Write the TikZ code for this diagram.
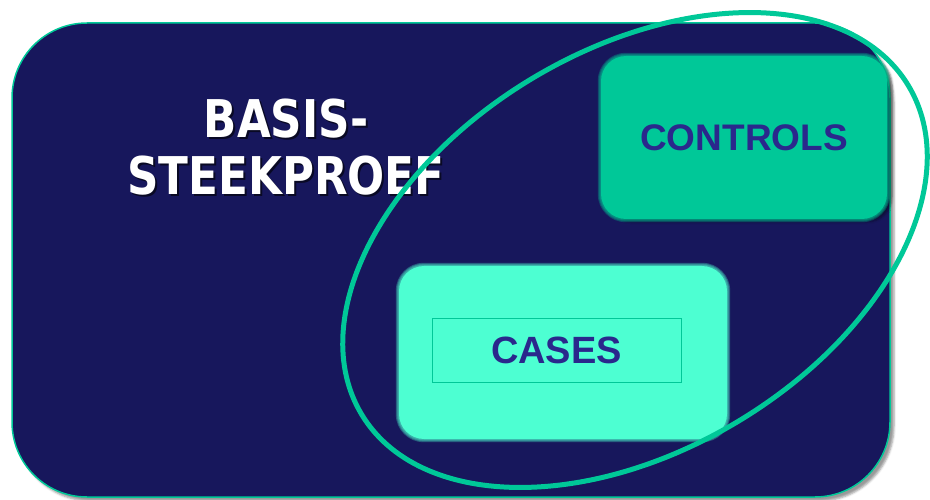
\documentclass[tikz,border=0pt]{standalone}
\usepackage{fontspec}
\setmainfont{Liberation Sans}
\newfontfamily\titlefont[FakeStretch=0.84]{DejaVu Sans}
\usepackage{xcolor}
\definecolor{navy-900}{RGB}{23,23,92}
\definecolor{teal-500}{RGB}{0,200,152}
\definecolor{aqua-300}{RGB}{77,255,210}
\definecolor{indigo-700}{RGB}{42,40,140}
\usepackage{tikz}
\usetikzlibrary{shadows.blur}

\begin{document}
\begin{tikzpicture}[
    x=1pt, y=1pt,
    every node/.style={inner sep=0pt},
    softbox/.style={rounded corners=25pt}
]
\useasboundingbox (0,0) rectangle (930,499);

% Population frame
\node[
    draw=teal-500,
    line width=1.5pt,
    fill=navy-900,
    minimum width=878,
    minimum height=474,
    rounded corners=75pt,
    blur shadow={shadow xshift=4pt, shadow yshift=-4pt}
] (frame) at (451,239) {};

% Cases block
\node[softbox, fill=aqua-300, minimum width=328, minimum height=173] (casesbox) at (563,146.5) {};
\foreach \d/\r in {1/26pt,2/27pt,3/28pt}
    \fill[aqua-300, opacity=0.3, rounded corners=\r] ([shift={(-\d,\d)}]casesbox.north west) rectangle ([shift={(\d,-\d)}]casesbox.south east);
\node[draw=teal-500, line width=1pt, minimum width=249, minimum height=64,
      font=\fontsize{38}{40}\selectfont\bfseries, text=indigo-700] (cases) at (556.5,149) {CASES};

% Controls block
\node[softbox, fill=teal-500, minimum width=286, minimum height=163,
      blur shadow={shadow xshift=5pt, shadow yshift=-3pt}] (controlsbox) at (744,361.5) {};
\foreach \d/\r in {1/26pt,2/27pt,3/28pt}
    \fill[teal-500, opacity=0.3, rounded corners=\r] ([shift={(-\d,\d)}]controlsbox.north west) rectangle ([shift={(\d,-\d)}]controlsbox.south east);
\node[font=\fontsize{37}{40}\selectfont\bfseries, text=indigo-700] (controls) at (controlsbox) {CONTROLS};

% Title with drop shadow
\node[font=\titlefont\fontsize{52}{57}\selectfont\bfseries, text=black, opacity=0.6, anchor=base] (titleAshadow) at (288,359) {BASIS-};
\node[font=\titlefont\fontsize{52}{57}\selectfont\bfseries, text=black, opacity=0.6, anchor=base] (titleBshadow) at (288,302) {STEEKPROEF};
\node[font=\titlefont\fontsize{52}{57}\selectfont\bfseries, text=white, anchor=base] (titleA) at (286,361) {BASIS-};
\node[font=\titlefont\fontsize{52}{57}\selectfont\bfseries, text=white, anchor=base] (titleB) at (286,304) {STEEKPROEF};

% Selection ellipse
\draw[teal-500, line width=5pt] (635,249) ellipse [x radius=319pt, y radius=200pt, rotate=31];

\end{tikzpicture}
\end{document}
